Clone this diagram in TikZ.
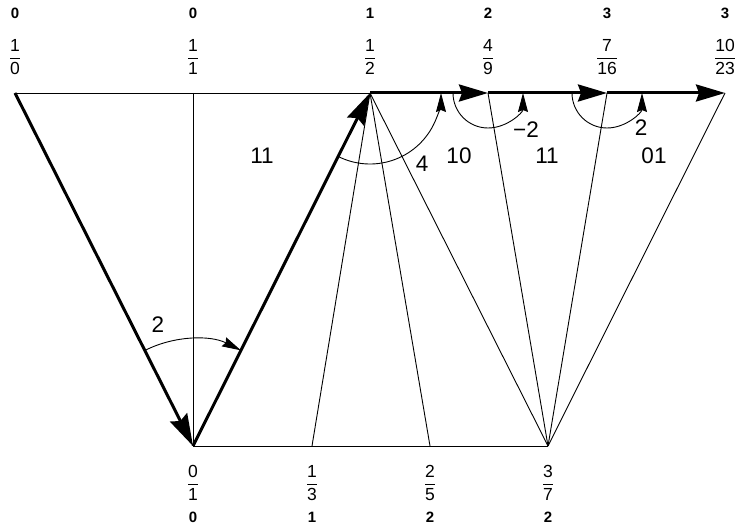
\documentclass[tikz,border=0pt]{standalone}
\usepackage{amsmath}
\usepackage{fontspec}
\setmainfont{Liberation Sans}
\usetikzlibrary{arrows.meta}
\newcommand\fr[2]{$\genfrac{}{}{1.1pt}{0}{\mbox{#1}}{\mbox{#2}}$}
\begin{document}
\begin{tikzpicture}[x=1pt,y=-1pt,
  thinline/.style={line width=0.9pt},
  boldarrow/.style={line width=3pt,-{Stealth[length=29pt,width=17pt,inset=3pt]}},
  diagarrow/.style={line width=3pt,-{Stealth[length=32pt,width=19pt,inset=4pt]}},
  arcarrow/.style={line width=0.9pt,-{Stealth[length=19pt,width=10pt,inset=2pt]}},
  lbl/.style={inner sep=0pt,font=\fontsize{22.5}{26}\selectfont},
  idx/.style={inner sep=0pt,font=\bfseries\fontsize{15}{18}\selectfont},
  frc/.style={inner sep=0pt,font=\fontsize{17.5}{20}\selectfont}]
\useasboundingbox (0,0) rectangle (735,529);
% points
\coordinate (P10) at (15,93);
\coordinate (P11) at (193,93);
\coordinate (P12) at (370,93);
\coordinate (P49) at (488,93);
\coordinate (P716) at (607,93);
\coordinate (P1023) at (725,93);
\coordinate (Q01) at (193,446);
\coordinate (Q13) at (312,446);
\coordinate (Q25) at (430,446);
\coordinate (Q37) at (548,446);
% thin lines
\draw[thinline] (P10) -- (P12);
\draw[thinline] (Q01) -- (Q37);
\draw[line width=0.7pt] (P11) -- (Q01);
\draw[thinline] (P12) -- (Q13);
\draw[thinline] (P12) -- (Q25);
\draw[thinline] (P12) -- (Q37);
\draw[thinline] (P49) -- (Q37);
\draw[thinline] (P716) -- (Q37);
\draw[thinline] (P1023) -- (Q37);
% thick arrows
\draw[diagarrow] (P10) -- (Q01);
\draw[diagarrow] (Q01) -- (P12);
\draw[boldarrow] (P12) -- (P49);
\draw[boldarrow] (P49) -- (P716);
\draw[boldarrow] (P716) -- (P1023);
% angle arcs
\draw[arcarrow] (Q01) ++(-116.8:107) arc[start angle=-116.8, end angle=-63.4, radius=107];
\draw[arcarrow] (P12) ++(116.6:71) arc[start angle=116.6, end angle=0, radius=71];
\draw[arcarrow] (P49) ++(180:35) arc[start angle=180, end angle=0, radius=35];
\draw[arcarrow] (P716) ++(180:35) arc[start angle=180, end angle=0, radius=35];
% angle labels
\node[lbl] (a2) at (158,325) {2};
\node[lbl] (a4) at (422,164) {4};
\node[lbl] (am2) at (526,130) {−2};
\node[lbl] (ap2) at (641,128) {2};
% region labels
\node[lbl] (r11a) at (262,156) {11};
\node[lbl] (r10) at (459,156) {10};
\node[lbl] (r11b) at (547,156) {11};
\node[lbl] (r01) at (654,156) {01};
% top indices
\node[idx] (t1) at (15,13) {0};
\node[idx] (t2) at (193,13) {0};
\node[idx] (t3) at (370,13) {1};
\node[idx] (t4) at (488,13) {2};
\node[idx] (t5) at (607,13) {3};
\node[idx] (t6) at (725,13) {3};
% top fractions
\node[frc] (f1) at (15,57) {\fr{1}{0}};
\node[frc] (f2) at (193,57) {\fr{1}{1}};
\node[frc] (f3) at (370,57) {\fr{1}{2}};
\node[frc] (f4) at (488,57) {\fr{4}{9}};
\node[frc] (f5) at (607,57) {\fr{7}{16}};
\node[frc] (f6) at (725,57) {\fr{10}{23}};
% bottom fractions
\node[frc] (g1) at (193,483) {\fr{0}{1}};
\node[frc] (g2) at (312,483) {\fr{1}{3}};
\node[frc] (g3) at (430,483) {\fr{2}{5}};
\node[frc] (g4) at (548,483) {\fr{3}{7}};
% bottom indices
\node[idx] (b1) at (193,517) {0};
\node[idx] (b2) at (312,517) {1};
\node[idx] (b3) at (430,517) {2};
\node[idx] (b4) at (548,517) {2};
\end{tikzpicture}
\end{document}
